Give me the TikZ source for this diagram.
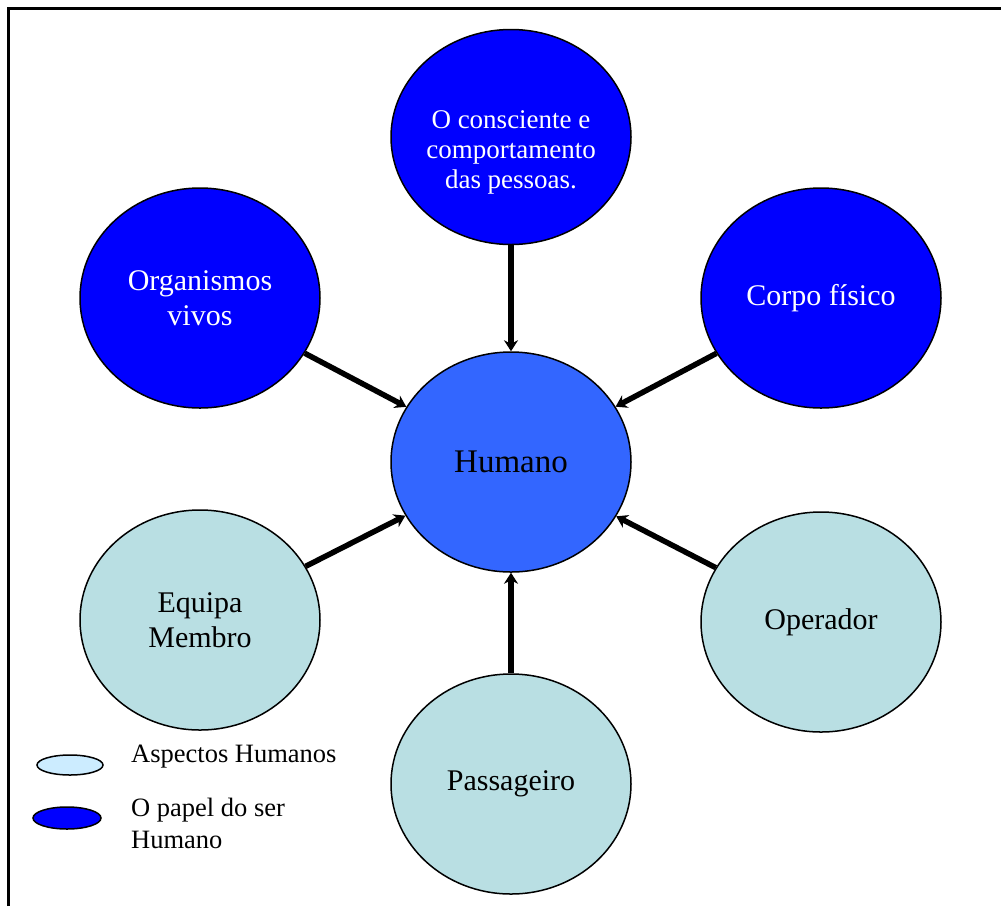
\documentclass[tikz,border=0pt]{standalone}
\usepackage{fontspec}
\setmainfont{Liberation Serif}
\usetikzlibrary{shapes.geometric,arrows.meta}

\definecolor{papelblue}{HTML}{0000FF}
\definecolor{humblue}{HTML}{3366FF}
\definecolor{aspteal}{HTML}{B9DFE3}
\definecolor{legblue}{HTML}{CCECFF}

\begin{document}
\begin{tikzpicture}[x=1pt,y=-1pt,
        bola/.style={ellipse,draw,line width=1.5pt,minimum width=240pt,minimum height=220pt,inner sep=0pt,align=center},
        papel/.style={bola,fill=papelblue,text=white},
        aspecto/.style={bola,fill=aspteal},
        seta/.style={line width=5.5pt,-{Stealth[length=11pt,width=14pt]}}]
    \useasboundingbox (0,0) rectangle (1001,906);
    \draw[line width=3pt] (8,906) -- (8,8) -- (1001,8);

    \node[bola,fill=humblue,font=\fontsize{33}{38}\selectfont] (hum) at (511,462) {Humano};

    \node[papel,minimum height=215pt] (consc) at (511,137) {};
    \node[text=white,align=center,font=\fontsize{27}{30}\selectfont] (consctxt) at ([yshift=-15pt]consc.center) {O consciente e\\comportamento\\das pessoas.};
    \node[papel,font=\fontsize{30}{35}\selectfont] (org) at (200,298) {Organismos\\vivos};
    \node[papel,font=\fontsize{30}{35}\selectfont] (corpo) at (821,298) {Corpo físico};

    \node[aspecto,font=\fontsize{30}{35}\selectfont] (equipa) at (200,620) {Equipa\\Membro};
    \node[aspecto,font=\fontsize{30}{35}\selectfont] (oper) at (821,622) {Operador};
    \node[aspecto,font=\fontsize{30}{35}\selectfont] (pass) at (511,784) {Passageiro};

    \foreach \n in {consc,org,corpo,equipa,oper,pass}
        \draw[seta] (\n) -- (hum);

    % legenda
    \node[ellipse,draw,line width=1.5pt,fill=legblue,minimum width=66pt,minimum height=20pt,inner sep=0pt] (legasp) at (70,765) {};
    \node[ellipse,draw,line width=1.5pt,fill=papelblue,minimum width=68pt,minimum height=22pt,inner sep=0pt] (legpap) at (67,818) {};
    \node[anchor=west,inner sep=0pt,font=\fontsize{26.5}{32}\selectfont] (txtasp) at (131,757) {Aspectos Humanos};
    \node[anchor=west,inner sep=0pt,align=left,font=\fontsize{26.5}{32}\selectfont] (txtpap) at (131,823) {O papel do ser\\Humano};
\end{tikzpicture}
\end{document}
